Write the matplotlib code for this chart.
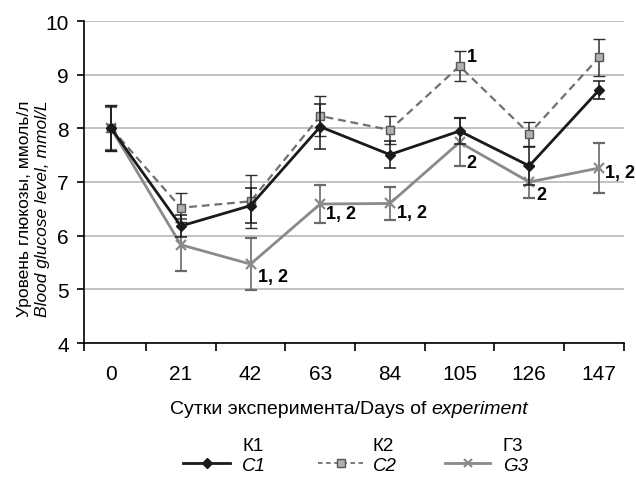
import matplotlib.pyplot as plt
from matplotlib.lines import Line2D

plt.rcParams['font.family'] = ['Liberation Sans', 'DejaVu Sans']

days = ['0', '21', '42', '63', '84', '105', '126', '147']
k1 = [8.0, 6.18, 6.56, 8.03, 7.51, 7.95, 7.30, 8.71]
k1_err = [0.42, 0.2, 0.32, 0.42, 0.25, 0.25, 0.35, 0.17]
k2 = [8.0, 6.52, 6.64, 8.23, 7.97, 9.16, 7.90, 9.32]
k2_err = [0.43, 0.27, 0.49, 0.38, 0.26, 0.28, 0.22, 0.35]
g3 = [8.0, 5.83, 5.47, 6.59, 6.60, 7.74, 7.00, 7.26]
g3_err = [0.4, 0.48, 0.49, 0.36, 0.30, 0.45, 0.29, 0.47]
# significance marks: index, series, text, offset in pixels
marks = [(5, 'k2', '1', (7, 10)),
         (2, 'g3', '1, 2', (7, -12)),
         (3, 'g3', '1, 2', (6, -9)),
         (4, 'g3', '1, 2', (7, -9)),
         (5, 'g3', '2', (7, -20)),
         (6, 'g3', '2', (7, -12)),
         (7, 'g3', '1, 2', (6, -4))]

fig = plt.figure(figsize=(6.36, 4.81), dpi=100)
ax = fig.add_axes([84 / 636, 1 - 344 / 481, 540 / 636, 322 / 481])
x = list(range(len(days)))

ax.errorbar(x, g3, yerr=g3_err, color='#8a8a8a', lw=2, marker='x', ms=6.5, mew=1.6,
            ecolor='#6a6a6a', elinewidth=1.2, capsize=4, capthick=1.2, zorder=3)
ax.errorbar(x, k2, yerr=k2_err, color='#707070', lw=1.6, ls=(0, (3.5, 2.2)), marker='s', ms=6,
            mfc='#b0b0b0', mec='#555555', mew=1, ecolor='#303030', elinewidth=1.1,
            capsize=4, capthick=1.1, zorder=4)
ax.errorbar(x, k1, yerr=k1_err, color='#1a1a1a', lw=2, marker='D', ms=5,
            ecolor='#1a1a1a', elinewidth=1.1, capsize=4, capthick=1.1, zorder=5)

series = {'k2': k2, 'g3': g3}
for i, s, txt, off in marks:
    ax.annotate(txt, (i, series[s][i]), xytext=off, textcoords='offset pixels',
                fontsize=13, fontweight='bold', ha='left', va='center', zorder=6)

ax.set_xlim(-0.39, 7.36)
ax.set_ylim(4, 10)
ax.set_yticks(range(4, 11))
ax.set_xticks(x)
ax.set_xticklabels(days)
ax.set_xticks([-0.39] + [i + 0.5 for i in range(7)] + [7.36], minor=True)
ax.tick_params(axis='x', which='major', length=0, pad=15, labelsize=15)
ax.tick_params(axis='x', which='minor', length=6, width=1.2, direction='out')
ax.tick_params(axis='y', length=5, width=1.2, labelsize=15, pad=6)
for sp in ['top', 'right']:
    ax.spines[sp].set_visible(False)
for sp in ['left', 'bottom']:
    ax.spines[sp].set_linewidth(1.2)
ax.yaxis.grid(True, color='#b8b8b8', lw=1.2)
ax.set_axisbelow(True)

# axis titles, mixed upright / italic
fig.text(25 / 636, 1 - 209 / 481, 'Уровень глюкозы, ммоль/л', rotation=90,
         ha='center', va='center', fontsize=12.5)
fig.text(43 / 636, 1 - 209 / 481, 'Blood glucose level, mmol/L', rotation=90,
         ha='center', va='center', fontsize=12.5, style='italic')
t1 = fig.text(170 / 636, 1 - 410 / 481, 'Сутки эксперимента/Days of ', ha='left',
              va='center', fontsize=14)
ax.annotate('experiment', xy=(1, 0.5), xycoords=t1, ha='left', va='center',
            fontsize=14, style='italic')

# legend drawn by hand
legend = [(183, 230, 242, 'К1', 'C1', dict(color='#1a1a1a', lw=2, marker='D', ms=5)),
          (318, 363, 373, 'К2', 'C2', dict(color='#707070', lw=1.3, ls=(0, (2.5, 2)), marker='s',
                                           ms=6, mfc='#b0b0b0', mec='#555555')),
          (445, 490, 503, 'Г3', 'G3', dict(color='#8a8a8a', lw=2, marker='x', ms=6, mew=1.5))]
for x0, x1, xt, top, bottom, style in legend:
    fig.add_artist(Line2D([x0 / 636, x1 / 636], [1 - 464 / 481] * 2, markevery=[], **style))
    fig.add_artist(Line2D([(x0 + x1) / 2 / 636], [1 - 464 / 481], ls='none',
                          **{k: v for k, v in style.items() if k not in ('lw', 'ls')}))
    fig.text(xt / 636, 1 - 447 / 481, top, fontsize=13.5, ha='left', va='center')
    fig.text(xt / 636, 1 - 467 / 481, bottom, fontsize=13.5, ha='left', va='center',
             style='italic')

fig.savefig('out.png', dpi=100)
